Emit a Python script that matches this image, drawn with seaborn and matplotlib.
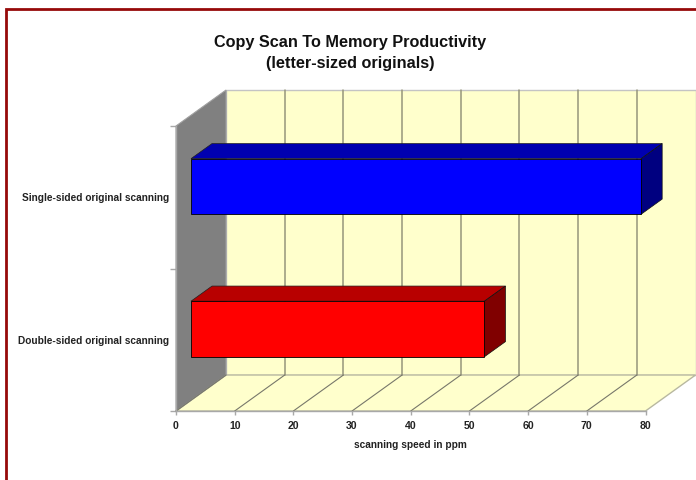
import seaborn as sns
import matplotlib.pyplot as plt
from matplotlib.patches import Polygon
from matplotlib.lines import Line2D

categories = ["Single-sided original scanning", "Double-sided original scanning"]
speeds = [76.7, 50]
front_colors = ["#0000ff", "#ff0000"]
top_colors = ["#0000b0", "#b80000"]
side_colors = ["#000080", "#800000"]
x_ticks = [0, 10, 20, 30, 40, 50, 60, 70, 80]

title = "Copy Scan To Memory Productivity\n(letter-sized originals)"
x_label = "scanning speed in ppm"

# how far the back of the 3d box is shifted, in data units
DX = 50 / 5.8625
DY = 36 / 142.5
BAR_NEAR = 0.3
BAR_FAR = 0.72
BAR_H = 0.39

sns.set_theme(style="white")
plt.rcParams['font.family'] = ['Liberation Sans', 'DejaVu Sans']

fig = plt.figure(figsize=(6.96, 4.8), dpi=100)
ax = fig.add_axes([176 / 696, 1 - 411 / 480, (645.5 - 176) / 696, 285 / 480])
ax.patch.set_alpha(0)

sns.barplot(x=speeds, y=categories, hue=categories, palette=front_colors,
            orient="h", width=BAR_H, legend=False, ax=ax, saturation=1,
            edgecolor="black", linewidth=0.6, zorder=5)
ax.set_xlim(0, 80)
ax.set_ylim(1.5, -0.5)


def pt(x, y, depth):
    return (x + depth * DX, y - depth * DY)


def face(points, color, edge="none", lw=0, zorder=1):
    ax.add_patch(Polygon(points, closed=True, facecolor=color, edgecolor=edge,
                         linewidth=lw, zorder=zorder, clip_on=False))


y0, y1 = 1.5, -0.5
x1 = x_ticks[-1]

# back wall, floor and left wall
face([pt(0, y0, 1), pt(x1, y0, 1), pt(x1, y1, 1), pt(0, y1, 1)], "#ffffcc", "#c4c4c4", 1.0)
face([pt(0, y0, 0), pt(x1, y0, 0), pt(x1, y0, 1), pt(0, y0, 1)], "#ffffcc", "#b8b8a0", 1.0)
face([pt(0, y0, 0), pt(0, y0, 1), pt(0, y1, 1), pt(0, y1, 0)], "#808080", "#a0a0a0", 0.8)

# grid on wall and floor
for t in x_ticks[:-1]:
    if t > 0:
        a, b = pt(t, y0, 1), pt(t, y1, 1)
        ax.add_line(Line2D([a[0], b[0]], [a[1], b[1]], color="#96967c", lw=1.1, zorder=2, clip_on=False))
    a, b = pt(t, y0, 0), pt(t, y0, 1)
    ax.add_line(Line2D([a[0], b[0]], [a[1], b[1]], color="#77776a", lw=0.8, zorder=2, clip_on=False))

# bars: seaborn draws the front, the top and the side follow from the same values
for i, patch in enumerate(ax.containers[0].patches if len(ax.containers) == 1 else [c.patches[0] for c in ax.containers]):
    patch.set_x(patch.get_x() + BAR_NEAR * DX)
    patch.set_y(patch.get_y() - BAR_NEAR * DY)
    patch.set_clip_on(False)

    v = speeds[i]
    top, bot = i - BAR_H / 2, i + BAR_H / 2
    face([pt(0, top, BAR_NEAR), pt(v, top, BAR_NEAR), pt(v, top, BAR_FAR), pt(0, top, BAR_FAR)],
         top_colors[i], "#202020", 0.5, 4)
    face([pt(v, top, BAR_NEAR), pt(v, bot, BAR_NEAR), pt(v, bot, BAR_FAR), pt(v, top, BAR_FAR)],
         side_colors[i], "#101010", 0.5, 4)

for s in ["top", "right"]:
    ax.spines[s].set_visible(False)
for s in ["left", "bottom"]:
    ax.spines[s].set_color("#a8a8a8")
    ax.spines[s].set_linewidth(1.0)
    ax.spines[s].set_zorder(3)

ax.set_xticks(x_ticks)
ax.set_yticks([-0.5, 0.5, 1.5], minor=False)
ax.set_yticklabels([])
ax.set_yticks([0, 1], minor=True)
ax.set_yticklabels(categories, minor=True)
ax.tick_params(axis="y", which="major", length=4, width=1, color="#a8a8a8", left=True)
ax.tick_params(axis="y", which="minor", length=0, pad=5, labelsize=7.3, labelcolor="#222222")
ax.tick_params(axis="x", length=3, width=1, color="#a8a8a8", bottom=True, pad=4, labelsize=7.6, labelcolor="#222222")
for lab in ax.get_xticklabels() + ax.get_yticklabels(minor=True):
    lab.set_fontweight("bold")

ax.set_xlabel(x_label, fontsize=7.3, fontweight="bold", color="#222222", labelpad=7)
ax.set_ylabel("")

fig.text(350 / 696, 1 - 53 / 480, title, ha="center", va="center", fontsize=11.7,
         fontweight="bold", color="#111111", linespacing=1.55)

# dark red frame of the page, only top and left are in the crop
fig.add_artist(Line2D([5.5 / 696, 5.5 / 696, 1], [0, 1 - 9 / 480, 1 - 9 / 480],
                      color="#960a0a", lw=2.0, solid_joinstyle="miter"))

fig.savefig("out.png", dpi=100, facecolor="white")
